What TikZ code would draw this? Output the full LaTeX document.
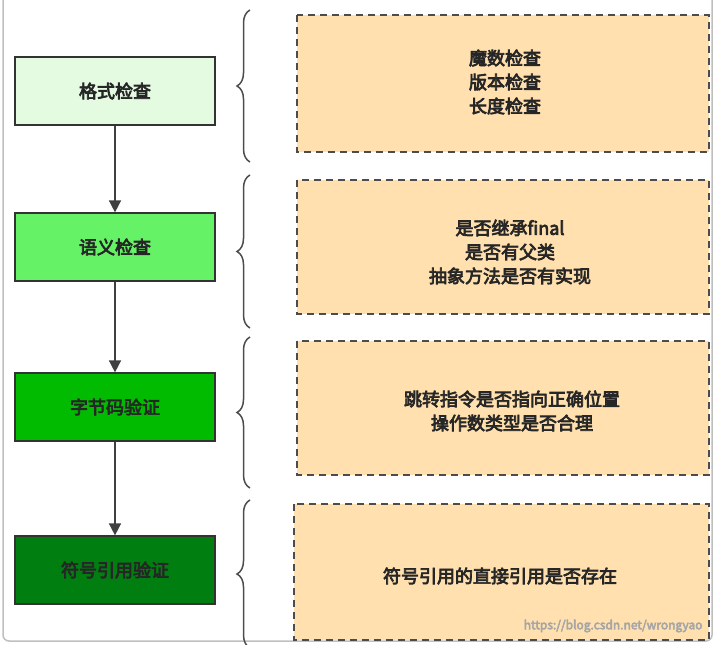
\documentclass[tikz,border=0pt]{standalone}
\usepackage{fontspec}
\setmainfont{Noto Sans CJK SC}[FakeBold=4]
\usetikzlibrary{arrows.meta,decorations.pathreplacing}
\definecolor{c1}{HTML}{E4FBE2}
\definecolor{c2}{HTML}{66F266}
\definecolor{c3}{HTML}{00BB00}
\definecolor{c4}{HTML}{007F10}
\definecolor{peach}{HTML}{FFE0AE}
\begin{document}
\begin{tikzpicture}[x=1pt,y=-1pt,
  stage/.style={draw=black!80,line width=1.2pt,minimum width=200pt,minimum height=68pt,font=\fontsize{18}{20}\selectfont,text=black!85},
  detail/.style={draw=black!70,fill=peach,dashed,dash pattern=on 7pt off 5pt,line width=1.6pt},
  dtext/.style={font=\fontsize{18}{24}\selectfont,align=center,text=black!85},
  flow/.style={-{Triangle[length=12pt,width=12pt]},line width=1.5pt,draw=black!75},
  brc/.style={decorate,decoration={brace,amplitude=13pt},line width=1.5pt,draw=black!70}]
\useasboundingbox (0,0) rectangle (715,645);
\draw[black!25,line width=1.5pt,rounded corners=6pt] (3,-10) rectangle (712,641);
\node[stage,fill=c1] (s1) at (115,91) {格式检查};
\node[stage,fill=c2] (s2) at (115,247) {语义检查};
\node[stage,fill=c3] (s3) at (115,407) {字节码验证};
\node[stage,fill=c4] (s4) at (115,570) {符号引用验证};
\draw[flow] (s1) -- (s2);
\draw[flow] (s2) -- (s3);
\draw[flow] (s3) -- (s4);
\coordinate (b1a) at (250,10); \coordinate (b1b) at (250,162);
\coordinate (b2a) at (250,175); \coordinate (b2b) at (250,328);
\coordinate (b3a) at (250,337); \coordinate (b3b) at (250,488);
\coordinate (b4a) at (250,500); \coordinate (b4b) at (250,648);
\draw[brc] (b1b) -- (b1a);
\draw[brc] (b2b) -- (b2a);
\draw[brc] (b3b) -- (b3a);
\draw[brc] (b4b) -- (b4a);
\draw[detail] (297,15) rectangle (709,152);
\draw[detail] (297,180) rectangle (709,314);
\draw[detail] (297,341) rectangle (709,475);
\draw[detail] (294,504) rectangle (709,640);
\node[dtext] (d1) at (505,82) {魔数检查\\版本检查\\长度检查};
\node[dtext] (d2) at (510,252) {是否继承final\\是否有父类\\抽象方法是否有实现};
\node[dtext] (d3) at (512,411) {跳转指令是否指向正确位置\\操作数类型是否合理};
\node[dtext] (d4) at (500,576) {符号引用的直接引用是否存在};
\node[font=\fontsize{12}{13}\selectfont,text=black!35,anchor=east] (wm) at (706,626) {https://blog.csdn.net/wrongyao};
\end{tikzpicture}
\end{document}
